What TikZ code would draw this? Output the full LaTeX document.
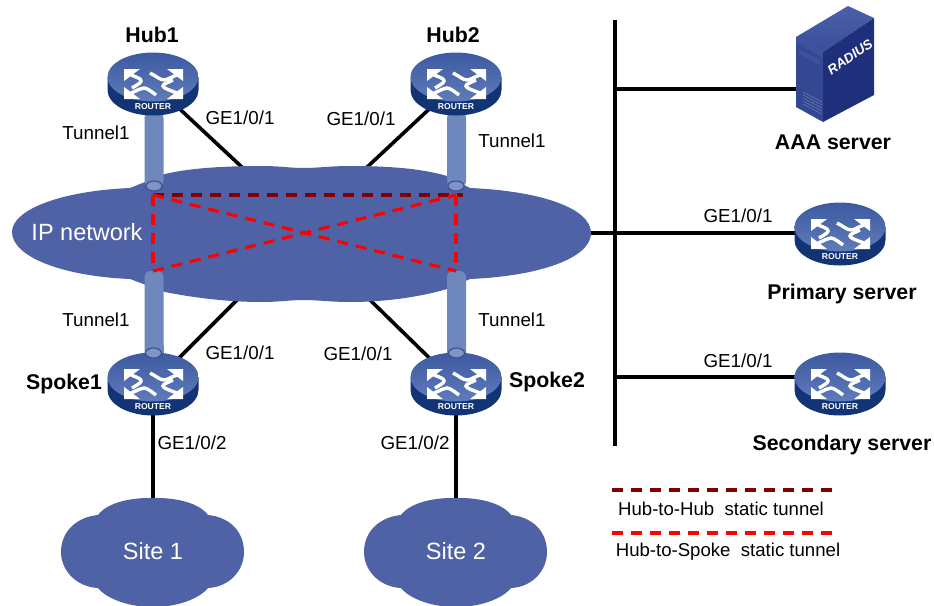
\documentclass[tikz,border=0pt]{standalone}
\usepackage{fontspec}
\setmainfont{Liberation Sans}
\definecolor{cloudblue}{HTML}{4E62A5}
\definecolor{tubeblue}{HTML}{6E87BD}
\definecolor{holeblue}{HTML}{7F94C8}
\definecolor{holeedge}{HTML}{3E4D8C}
\definecolor{routerside}{HTML}{123474}
\definecolor{routertopa}{HTML}{3D5AA2}
\definecolor{routertopb}{HTML}{5F7BB9}
\definecolor{darkdash}{HTML}{7F0000}
\definecolor{reddash}{HTML}{FF0000}
\definecolor{srvtopa}{HTML}{4A60A8}
\definecolor{srvtopb}{HTML}{3A4E9A}
\definecolor{srvleft}{HTML}{344793}
\definecolor{srvstrip}{HTML}{3E519C}
\definecolor{srvright}{HTML}{1F2F7C}
\definecolor{srvvent}{HTML}{6E7DB8}
\tikzset{
  x=1pt,y=-1pt,
  routerbox/.style={minimum width=91pt,minimum height=63pt,inner sep=0pt,outer sep=0pt},
  serverbox/.style={minimum width=78pt,minimum height=116pt,inner sep=0pt,outer sep=0pt},
  link/.style={draw=black,line width=3.6pt},
  tunnelhh/.style={draw=darkdash,line width=3.2pt,dash pattern=on 11pt off 8pt},
  tunnelhs/.style={draw=reddash,line width=3.2pt,dash pattern=on 11pt off 8pt},
  plain/.style={font=\fontsize{18.8}{20}\selectfont,inner sep=0pt,text=black},
  legendtext/.style={font=\fontsize{18.6}{20}\selectfont,inner sep=0pt,text=black},
  strong/.style={font=\fontsize{21.3}{23}\selectfont\bfseries,inner sep=0pt,text=black},
  cloudtext/.style={font=\fontsize{23.5}{26}\selectfont,inner sep=0pt,text=white},
  tube/.style={fill=tubeblue,draw=none,rounded corners=6pt},
  hole/.style={fill=holeblue,draw=holeedge,line width=1.1pt},
  icon/.style={draw=white,line width=3.4pt,line cap=butt},
  iconhead/.style={fill=white,draw=none}
}
\newcommand{\routerart}[1]{%
  \begin{scope}[shift={(#1.center)}]
    \fill[routerside] (-45.5,-7) -- (-45.5,6) arc[start angle=180,end angle=0,x radius=45.5,y radius=25.5] -- (45.5,-7) -- cycle;
    \shade[top color=routertopa,bottom color=routertopb] (0,-7) ellipse [x radius=45.5,y radius=24.5];
    \draw[icon] (-22,-9) .. controls (-14,-6) and (-12,-5) .. (-12,-3) .. controls (-12,-1) and (-16,1) .. (-21,4);
    \draw[icon] (24,-9) .. controls (16,-6) and (14,-4) .. (11,-4) .. controls (7,-4) and (3,-8) .. (-3,-11);
    \draw[icon] (-22,9) .. controls (-14,6) and (-13,4) .. (-9,4) .. controls (-6,4) and (-1,8) .. (3,11);
    \draw[icon] (24,9) .. controls (16,6) and (10,4) .. (10,2) .. controls (10,0) and (14,-1) .. (20,-4);
    \fill[iconhead] (-29,-15) -- (-13,-15) -- (-29,-3) -- cycle;
    \fill[iconhead] (30,-15) -- (14,-15) -- (30,-3) -- cycle;
    \fill[iconhead] (-29,15) -- (-13,15) -- (-29,3) -- cycle;
    \fill[iconhead] (30,15) -- (14,15) -- (30,3) -- cycle;
    \node[text=white,inner sep=0pt,font=\fontsize{8.6}{9}\selectfont\bfseries] at (0,23) {ROUTER};
  \end{scope}}
\newcommand{\sitecloud}[1]{%
  \begin{scope}[shift={(#1)}]
    \fill[cloudblue] (-55,-36) .. controls (-46,-48) and (-24,-53) .. (-4,-53)
      .. controls (-2,-53) and (2,-53) .. (4,-53)
      .. controls (24,-53) and (46,-48) .. (55,-36)
      .. controls (76,-34) and (91,-20) .. (91,1)
      .. controls (91,20) and (76,36) .. (55,37)
      .. controls (46,48) and (24,56) .. (0,56)
      .. controls (-24,56) and (-46,48) .. (-55,37)
      .. controls (-76,36) and (-92,20) .. (-92,1)
      .. controls (-92,-20) and (-76,-34) .. (-55,-36) -- cycle;
  \end{scope}}
\begin{document}
\begin{tikzpicture}
\useasboundingbox (0,0) rectangle (934,605);
% anchors
\node[routerbox] (hub1) at (153,84) {};
\node[routerbox] (hub2) at (456,84) {};
\node[routerbox] (spoke1) at (153,384) {};
\node[routerbox] (spoke2) at (456,384) {};
\node[routerbox] (primary) at (840,234) {};
\node[routerbox] (secondary) at (840,384) {};
\node[serverbox] (server) at (835,64) {};
\coordinate (site1) at (153,551);
\coordinate (site2) at (456,551);
\coordinate (netHubA) at (245,170);
\coordinate (netHubB) at (364,170);
\coordinate (netSpokeA) at (239,298);
\coordinate (netSpokeB) at (368,298);
\coordinate (netEast) at (580,233);
\coordinate (busTop) at (615,20);
\coordinate (busBottom) at (615,446);
\coordinate (busA) at (615,89);
\coordinate (busB) at (615,233);
\coordinate (busC) at (615,377);
% connectors beneath shapes
\draw[link] (hub1.center) -- (netHubA);
\draw[link] (hub2.center) -- (netHubB);
\draw[link] (spoke1.center) -- (netSpokeA);
\draw[link] (spoke2.center) -- (netSpokeB);
\draw[link] (spoke1.center) -- (site1);
\draw[link] (spoke2.center) -- (site2);
\draw[link] (netEast) -- (busB);
\draw[link] (busTop) -- (busBottom);
\draw[link] (busA) -- (busA -| server.center);
\draw[link] (busB) -- (busB -| primary.center);
\draw[link] (busC) -- (busC -| secondary.center);
% IP network cloud
\fill[cloudblue] (12,232) .. controls (12,210) and (60,191) .. (130,188)
  -- (165,174) .. controls (190,168) and (225,166) .. (262,166)
  .. controls (280,166) and (290,168) .. (304,168)
  .. controls (318,168) and (330,166) .. (350,166)
  .. controls (385,166) and (420,168) .. (447,176)
  -- (470,188) .. controls (540,191) and (591,208) .. (591,233)
  .. controls (591,258) and (540,276) .. (470,279)
  -- (447,289) .. controls (420,297) and (385,302) .. (350,302)
  .. controls (330,302) and (318,300) .. (304,300)
  .. controls (290,300) and (280,302) .. (262,302)
  .. controls (225,302) and (190,297) .. (165,292)
  -- (130,279) .. controls (60,276) and (12,256) .. (12,232) -- cycle;
\sitecloud{site1}
\sitecloud{site2}
% tubes
\fill[tube] (144.5,112) rectangle (163.5,187);
\fill[tube] (447,112) rectangle (466,187);
\fill[tube] (144.5,271) rectangle (163.5,370);
\fill[tube] (447,271) rectangle (466,370);
\draw[hole] (154,186) ellipse [x radius=8,y radius=5];
\draw[hole] (456,186) ellipse [x radius=8,y radius=5];
% routers
\routerart{hub1}
\routerart{hub2}
\routerart{spoke1}
\routerart{spoke2}
\routerart{primary}
\routerart{secondary}
\fill[tubeblue] (144.5,345) rectangle (163.5,353);
\fill[tubeblue] (447,345) rectangle (466,353);
\draw[hole] (153.5,353) ellipse [x radius=8,y radius=5];
\draw[hole] (456.5,353) ellipse [x radius=8,y radius=5];
% server
\shade[top color=srvtopa,bottom color=srvtopb] (796,37) -- (848,6) -- (874,18) -- (823,52) -- cycle;
\fill[srvleft] (796,37) -- (823,52) -- (823,122) -- (796,107) -- cycle;
\fill[srvstrip] (796,37) -- (823,52) -- (823,58) -- (796,43) -- cycle;
\fill[srvright] (823,52) -- (874,18) -- (874,95) -- (823,122) -- cycle;
\fill[srvstrip] (799,49) -- (820,60) -- (820,65) -- (799,54) -- cycle;
\foreach \v in {0,3,6,9,12}{\draw[srvvent,line width=.5pt] (803,92+\v) -- (822,102+\v);}
\node[text=white,inner sep=0pt,rotate=34,font=\fontsize{13.4}{14}\selectfont\bfseries\itshape] at (850,57) {RADIUS};
% dashed tunnels
\coordinate (tl) at (153,195);
\coordinate (tr) at (456,195);
\coordinate (bl) at (153,271);
\coordinate (br) at (456,271);
\coordinate (trx) at (463,195);
\draw[tunnelhh] (tl) -- (trx);
\draw[tunnelhs] (tl) -- (bl);
\draw[tunnelhs] (tr) -- (br);
\draw[tunnelhs] (tl) -- (br);
\draw[tunnelhs] (bl) -- (tr);
% legend
\coordinate (legAa) at (612,490);
\coordinate (legAb) at (836,490);
\coordinate (legBa) at (612,533);
\coordinate (legBb) at (836,533);
\draw[tunnelhh] (legAa) -- (legAb);
\draw[tunnelhs] (legBa) -- (legBb);
\node[legendtext] (lega) at (721,509) {Hub-to-Hub\ \ static tunnel};
\node[legendtext] (legb) at (728,552) {Hub-to-Spoke\ \ static tunnel};
% labels
\node[strong] (lhub1) at (152,35) {Hub1};
\node[strong] (lhub2) at (453,35) {Hub2};
\node[strong] (lsp1) at (64,384) {Spoke1};
\node[strong] (lsp2) at (547,382) {Spoke2};
\node[strong] (laaa) at (833,142) {AAA server};
\node[strong] (lpri) at (842,294) {Primary server};
\node[strong] (lsec) at (842,445) {Secondary server};
\node[cloudtext] (lnet) at (87,232) {IP network};
\node[cloudtext] (lsite1) at (153,551) {Site 1};
\node[cloudtext] (lsite2) at (456,551) {Site 2};
\node[plain] (g1) at (240,118) {GE1/0/1};
\node[plain] (g2) at (361,119) {GE1/0/1};
\node[plain] (g3) at (240,353) {GE1/0/1};
\node[plain] (g4) at (358,354) {GE1/0/1};
\node[plain] (g5) at (738,216) {GE1/0/1};
\node[plain] (g6) at (738,361) {GE1/0/1};
\node[plain] (g7) at (192,443) {GE1/0/2};
\node[plain] (g8) at (415,443) {GE1/0/2};
\node[plain] (t1) at (96,133) {Tunnel1};
\node[plain] (t2) at (512,141) {Tunnel1};
\node[plain] (t3) at (96,320) {Tunnel1};
\node[plain] (t4) at (512,320) {Tunnel1};
\end{tikzpicture}
\end{document}
